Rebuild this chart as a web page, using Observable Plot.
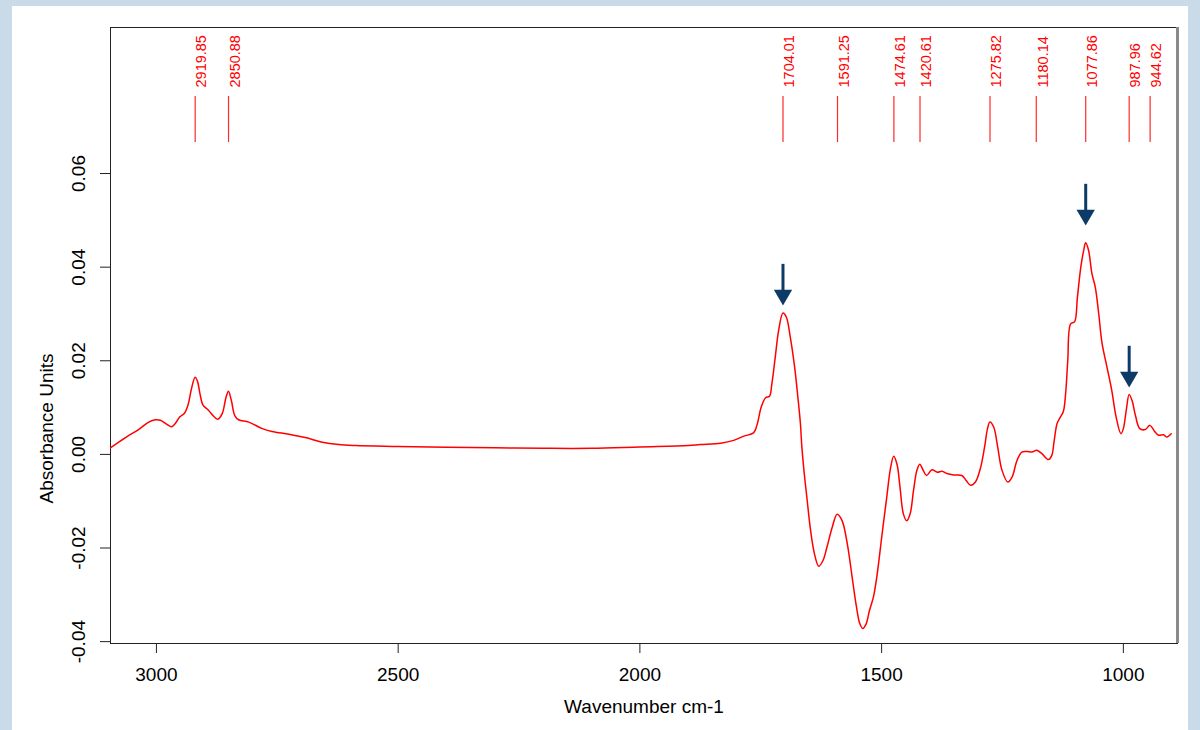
<!DOCTYPE html>
<html><head><meta charset="utf-8">
<script src="https://cdn.jsdelivr.net/npm/d3@7"></script>
<script src="https://cdn.jsdelivr.net/npm/@observablehq/plot@0.6"></script>
<style>
html,body{margin:0;padding:0;background:#c9dae8;width:1200px;height:730px;overflow:hidden}
#panel{position:absolute;left:12px;top:6px;width:1176px;height:724px;background:#fff}
</style></head><body><div id="panel"></div>
<script>
const wavenumber = [3098,3064,3037,3016,3002,2992,2978,2969,2961,2952,2942,2934,2928,2920,2915,2910,2904,2892,2881,2873,2864,2856,2851,2845,2838,2830,2809,2781,2761,2726,2692,2657,2623,2588,2500,2400,2300,2200,2100,2000,1900,1875,1833,1806,1785,1765,1758,1749,1740,1732,1727,1720,1713,1704,1697,1689,1680,1674,1668,1665,1660,1654,1647,1639,1630,1621,1613,1602,1592,1582,1571,1561,1552,1545,1539,1532,1525,1517,1510,1499,1489,1482,1475,1468,1462,1455,1448,1441,1434,1427,1421,1414,1407,1396,1385,1375,1365,1351,1334,1325,1316,1306,1296,1287,1281,1276,1268,1260,1251,1239,1230,1220,1210,1199,1189,1179,1168,1155,1148,1143,1137,1130,1124,1119,1115,1109,1101,1095,1088,1082,1078,1072,1065,1058,1051,1044,1034,1024,1015,1005,1000,994,988,982,975,966,955,945,936,927,917,910,901];
const absorbance = [0.0012,0.0036,0.0053,0.0069,0.0074,0.0073,0.0064,0.0059,0.0066,0.0080,0.0088,0.0108,0.0138,0.0165,0.0156,0.0130,0.0106,0.0094,0.0081,0.0075,0.0087,0.0122,0.0135,0.0115,0.0083,0.0074,0.0069,0.0055,0.0049,0.0043,0.0036,0.0026,0.0021,0.0019,0.0017,0.0015,0.0014,0.0013,0.0013,0.0016,0.0019,0.0021,0.0024,0.0030,0.0039,0.0046,0.0062,0.0101,0.0121,0.0124,0.0151,0.0208,0.0265,0.0302,0.0293,0.0251,0.0187,0.0130,0.0066,0.0016,-0.0041,-0.0098,-0.0162,-0.0212,-0.0239,-0.0226,-0.0198,-0.0155,-0.0128,-0.0141,-0.0191,-0.0262,-0.0326,-0.0362,-0.0372,-0.0362,-0.0333,-0.0305,-0.0262,-0.0170,-0.0088,-0.0032,-0.0004,-0.0022,-0.0070,-0.0127,-0.0142,-0.0127,-0.0077,-0.0034,-0.0021,-0.0034,-0.0045,-0.0033,-0.0038,-0.0036,-0.0041,-0.0044,-0.0045,-0.0056,-0.0066,-0.0059,-0.0031,0.0016,0.0055,0.0069,0.0058,0.0016,-0.0034,-0.0059,-0.0048,-0.0013,0.0005,0.0006,0.0005,0.0009,0.0001,-0.0011,-0.0002,0.0030,0.0066,0.0080,0.0092,0.0135,0.0200,0.0279,0.0283,0.0336,0.0400,0.0436,0.0452,0.0436,0.0386,0.0357,0.0301,0.0237,0.0187,0.0137,0.0080,0.0044,0.0055,0.0094,0.0128,0.0115,0.0083,0.0055,0.0053,0.0062,0.0050,0.0041,0.0042,0.0037,0.0044];
const peakPositions = [2919.85,2850.88,1704.01,1591.25,1474.61,1420.61,1275.82,1180.14,1077.86,987.96,944.62];
const peakLabels = ["2919.85","2850.88","1704.01","1591.25","1474.61","1420.61","1275.82","1180.14","1077.86","987.96","944.62"];
const arrowPositions = [1704.01,1077.86,987.96];
const arrowTips = [0.0318,0.0489,0.0143];
const arrowLength = 0.0088;
const xTicks = [3000,2500,2000,1500,1000];
const yTicks = [-0.04,-0.02,0,0.02,0.04,0.06];
const xDomain = [3095,888];
const yDomain = [-0.0404,0.0912];
const xLabel = "Wavenumber cm-1";
const yLabel = "Absorbance Units";

const spectrum = wavenumber.map((w,i)=>({w, a: absorbance[i]}));
const peaks = peakPositions.map((w,i)=>({w, label: peakLabels[i]}));
const arrows = arrowPositions.map((w,i)=>({w, tip: arrowTips[i], top: arrowTips[i]+arrowLength}));
const navy = "#0d3a66";
const font = "'Liberation Sans', Arial, Helvetica, sans-serif";

const chart = Plot.plot({
  width: 1176, height: 724,
  marginLeft: 98, marginRight: 11, marginTop: 21, marginBottom: 87,
  style: {fontFamily: font, fontSize: "19px", background: "white", color: "#000"},
  x: {domain: xDomain},
  y: {domain: yDomain},
  marks: [
    Plot.axisX({ticks: xTicks, tickSize: 10, tickPadding: 14, tickFormat: d=>String(d), label: null, fontSize: 19, stroke:"#222"}),
    Plot.axisY({ticks: yTicks, tickSize: 10, tickPadding: 16, tickRotate: -90, tickFormat: d=>d.toFixed(2), label: null, fontSize: 19, stroke:"#222"}),
    Plot.frame({stroke: "#222"}),
    Plot.ruleX([xDomain[1]], {stroke: "#8a8a8a", strokeWidth: 3}),
    Plot.line(spectrum, {x: "w", y: "a", stroke: "#ff0000", strokeWidth: 1.5, curve: "catmull-rom", clip: true}),
    Plot.ruleX(peaks, {x: "w", stroke: "#ff2a2a", strokeWidth: 1.2, insetTop: 69, insetBottom: 501}),
    Plot.text(peaks, {x: "w", text: "label", frameAnchor: "top", rotate: -90, textAnchor: "start", dy: 60, dx: 1, fill: "#ff0000", fontSize: 14.5}),
    Plot.ruleX(arrows, {x: "w", y1: "top", y2: "tip", stroke: navy, strokeWidth: 3, insetBottom: 12}),
    Plot.dot(arrows, {x: "w", y: "tip", symbol: "triangle", rotate: 180, r: 6.8, fill: navy, stroke: "none", dy: -10.5}),
    Plot.text([xLabel], {frameAnchor: "bottom", dy: 69, text: d=>d, fontSize: 19}),
    Plot.text([yLabel], {frameAnchor: "left", rotate: -90, textAnchor: "middle", dx: -64, dy: 93, text: d=>d, fontSize: 19})
  ]
});
document.getElementById("panel").appendChild(chart);
</script></body></html>
